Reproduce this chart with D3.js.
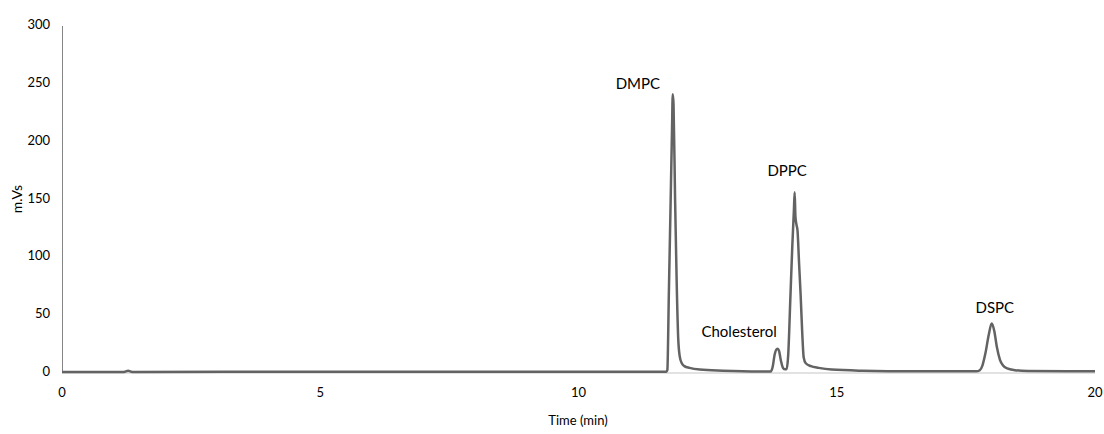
<!DOCTYPE html>
<html>
<head>
<meta charset="utf-8">
<script src="https://cdn.jsdelivr.net/npm/d3@7"></script>
<style>
  body { margin: 0; background: #fff; }
  svg text { font-family: Lato, "Liberation Sans", sans-serif; fill: #000; }
</style>
</head>
<body>
<svg id="chart" width="1104" height="434"></svg>
<script>
// chromatogram: time (min) and signal (m.Vs)
var times = [0, 1.2, 1.28, 1.36, 5, 10, 11.70, 11.72, 11.75, 11.78, 11.81, 11.825, 11.84, 11.87, 11.90, 11.93, 11.96, 12.00, 12.05, 12.15, 12.35, 12.8, 13.5,
  13.72, 13.76, 13.80, 13.85, 13.88, 13.92, 13.96, 14.00, 14.03, 14.06, 14.10, 14.14, 14.17, 14.185, 14.20, 14.22, 14.24, 14.27, 14.30, 14.33, 14.36, 14.40, 14.5, 14.65, 14.9, 15.5, 16.5,
  17.7, 17.77, 17.82, 17.88, 17.94, 18.00, 18.05, 18.10, 18.16, 18.22, 18.30, 18.45, 18.7, 20];
var signal = [0.5, 0.5, 1.5, 0.5, 0.6, 0.6, 0.6, 2, 70, 139, 209, 241, 232, 150, 80, 30, 14, 8, 5.5, 4, 2.5, 1.5, 0.8,
  0.8, 5, 16, 20.5, 19, 10, 4, 2.8, 3, 15, 62, 110, 140, 156, 135, 128, 123, 95, 68, 36, 13, 8, 5.5, 4, 2.5, 1.5, 1,
  1, 2, 6, 17, 32, 42.5, 36, 22, 11, 6, 3.5, 2, 1.2, 1];

var peakNames = ["DMPC", "Cholesterol", "DPPC", "DSPC"];
var peakTimes = [11.15, 13.11, 14.04, 18.06];
var peakLabelY = [249, 34, 173, 55];

var xTicks = [0, 5, 10, 15, 20];
var yTicks = [0, 50, 100, 150, 200, 250, 300];

var svg = d3.select("#chart");
var x = d3.scaleLinear().domain([0, 20]).range([62, 1095]);
var y = d3.scaleLinear().domain([0, 300]).range([372.5, 26]);

// x axis: light base line, labels only
svg.append("line")
  .attr("x1", x(0)).attr("x2", x(20))
  .attr("y1", y(0) + 0.5).attr("y2", y(0) + 0.5)
  .attr("stroke", "#d9d9d9").attr("stroke-width", 1.5);

svg.selectAll(".xt").data(xTicks).enter().append("text")
  .attr("x", function(d){ return x(d); })
  .attr("y", 394)
  .attr("text-anchor", "middle")
  .attr("dominant-baseline", "middle")
  .style("font-size", "13px")
  .text(function(d){ return d; });

// y axis
svg.append("line")
  .attr("x1", x(0) + 0.5).attr("x2", x(0) + 0.5)
  .attr("y1", y(0)).attr("y2", y(300))
  .attr("stroke", "#868686").attr("stroke-width", 1);

svg.selectAll(".yt").data(yTicks).enter().append("text")
  .attr("x", 50)
  .attr("y", function(d){ return y(d); })
  .attr("text-anchor", "end")
  .attr("dominant-baseline", "middle")
  .style("font-size", "13px")
  .text(function(d){ return d; });

svg.append("text")
  .attr("transform", "translate(18,199) rotate(-90)")
  .attr("text-anchor", "middle")
  .attr("dominant-baseline", "middle")
  .style("font-size", "14px")
  .text("m.Vs");

svg.append("text")
  .attr("x", 578).attr("y", 422)
  .attr("text-anchor", "middle")
  .attr("dominant-baseline", "middle")
  .style("font-size", "13px")
  .text("Time (min)");

// trace
var pts = times.map(function(t, i){ return [t, signal[i]]; });
var line = d3.line()
  .x(function(d){ return x(d[0]); })
  .y(function(d){ return y(d[1]); })
  .curve(d3.curveMonotoneX);

svg.append("path")
  .datum(pts)
  .attr("d", line)
  .attr("fill", "none")
  .attr("stroke", "#636363")
  .attr("stroke-width", 2.5)
  .attr("stroke-linejoin", "round");

// peak labels
svg.selectAll(".pk").data(peakNames).enter().append("text")
  .attr("x", function(d, i){ return x(peakTimes[i]); })
  .attr("y", function(d, i){ return y(peakLabelY[i]); })
  .attr("text-anchor", "middle")
  .attr("dominant-baseline", "middle")
  .style("font-size", "15px")
  .text(function(d){ return d; });
</script>
</body>
</html>
